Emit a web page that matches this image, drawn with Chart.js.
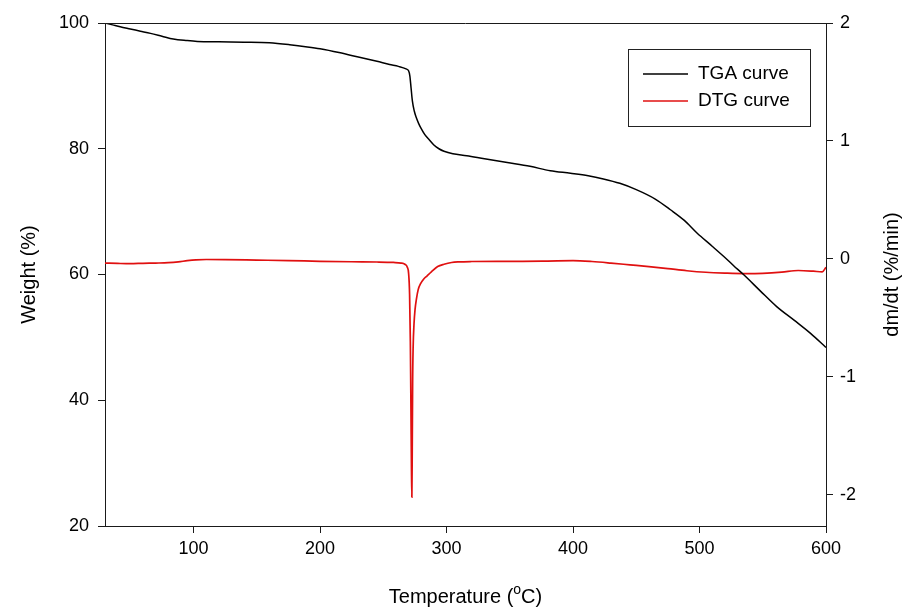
<!DOCTYPE html>
<html>
<head>
<meta charset="utf-8">
<script src="https://cdn.jsdelivr.net/npm/chart.js@4.4.1/dist/chart.umd.min.js"></script>
<style>
	html, body { margin: 0; padding: 0; background: #fff; }
</style>
</head>
<body>
<canvas id="myChart" width="905" height="612"></canvas>
<script>

// TGA curve: temperature (C) vs weight (%)
var tgaTemp = [30,36,42,50,58,66,75,84,95,103,120,140,160,176,190,200,215,232,245,255,262,268,270,271,272,273,274.5,276,278,280,283,286,290,294,298,305,316,330,348,366,382,398,412,424,437,450,465,477,488,498,510,519,527,535,548,561,575,588,600];
var tgaWeight = [100,99.7,99.4,99.05,98.7,98.35,97.9,97.45,97.2,97.07,97.0,96.95,96.85,96.55,96.2,95.9,95.3,94.5,93.9,93.4,93.1,92.7,92.4,91.6,89.6,87.6,86.0,85.0,84.0,83.2,82.2,81.5,80.6,80.0,79.6,79.2,78.9,78.4,77.8,77.2,76.5,76.1,75.7,75.2,74.5,73.5,72.0,70.3,68.6,66.6,64.5,62.9,61.4,59.95,57.4,54.9,52.7,50.6,48.4];

// DTG curve: temperature (C) vs dm/dt (%/min)
var dtgTemp = [30,40,50,60,70,80,88,95,102,110,125,150,175,200,225,245,258,264,267,269,270,270.8,271.4,271.9,272.3,272.6,272.9,273.2,273.6,274.3,275.1,276.2,277.6,279.5,282,284.5,288,293,298,304,310,320,340,360,380,400,415,430,445,460,475,490,505,520,535,550,565,578,590,597,600];
var dtgRate = [-0.035,-0.038,-0.04,-0.037,-0.035,-0.032,-0.025,-0.015,-0.008,-0.005,-0.006,-0.01,-0.014,-0.02,-0.024,-0.026,-0.03,-0.035,-0.045,-0.07,-0.12,-0.3,-0.7,-1.3,-1.8,-2.02,-1.6,-1.05,-0.75,-0.55,-0.43,-0.34,-0.26,-0.21,-0.17,-0.145,-0.11,-0.065,-0.045,-0.03,-0.025,-0.022,-0.02,-0.02,-0.018,-0.015,-0.022,-0.035,-0.05,-0.065,-0.082,-0.1,-0.113,-0.12,-0.124,-0.122,-0.112,-0.098,-0.104,-0.11,-0.07];

var xTicks = [100,200,300,400,500,600];
var weightTicks = [20,40,60,80,100];
var rateTicks = [-2,-1,0,1,2];
var seriesNames = ['TGA curve', 'DTG curve'];
var seriesColors = ['#000000', '#e01010'];

var FONT = 'Liberation Sans, Arial, sans-serif';
var AXIS = '#1a1a1a';

function toPoints(xs, ys){
	var pts = [];
	for(var i=0; i<xs.length; i++)
		pts.push({x: xs[i], y: ys[i]});
	return pts;
}

function fixedTicks(list){
	return function(scale){
		scale.ticks = list.map(function(v){ return {value: v}; });
	};
}

function axisGrid(){
	return {drawOnChartArea: false, tickLength: 7, color: AXIS, tickColor: AXIS, tickWidth: 1};
}

//frame, titles and legend drawn on top
var decorPlugin = {
	id: 'decor',
	afterDraw: function(chart){
		var ctx = chart.ctx;
		var a = chart.chartArea;
		ctx.save();

		//top frame line
		ctx.strokeStyle = AXIS;
		ctx.lineWidth = 1;
		ctx.beginPath();
		ctx.moveTo(a.left, a.top + 0.5);
		ctx.lineTo(a.right, a.top + 0.5);
		ctx.stroke();

		ctx.fillStyle = '#000';
		ctx.textBaseline = 'middle';
		ctx.textAlign = 'center';
		ctx.font = '20px ' + FONT;
		var midY = (a.top + a.bottom) / 2;

		//left title
		ctx.save();
		ctx.translate(29, midY);
		ctx.rotate(-Math.PI/2);
		ctx.fillText('Weight (%)', 0, 0);
		ctx.restore();

		//right title
		ctx.save();
		ctx.translate(892, midY);
		ctx.rotate(-Math.PI/2);
		ctx.fillText('dm/dt (%/min)', 0, 0);
		ctx.restore();

		//bottom title with superscript o
		var p1 = 'Temperature (', sup = 'o', p2 = 'C)';
		var w1 = ctx.measureText(p1).width;
		var w3 = ctx.measureText(p2).width;
		ctx.font = '14px ' + FONT;
		var w2 = ctx.measureText(sup).width;
		var total = w1 + w2 + w3;
		var x0 = (a.left + a.right) / 2 - total / 2;
		var ty = 597;
		ctx.textAlign = 'left';
		ctx.font = '20px ' + FONT;
		ctx.fillText(p1, x0, ty);
		ctx.font = '14px ' + FONT;
		ctx.fillText(sup, x0 + w1, ty - 7);
		ctx.font = '20px ' + FONT;
		ctx.fillText(p2, x0 + w1 + w2, ty);

		//legend box
		ctx.fillStyle = '#fff';
		ctx.fillRect(628, 49, 183, 78);
		ctx.strokeStyle = '#222';
		ctx.strokeRect(628.5, 49.5, 182, 77);
		ctx.font = '19px ' + FONT;
		var rows = [74, 101];
		for(var i=0; i<seriesNames.length; i++){
			ctx.strokeStyle = seriesColors[i];
			ctx.lineWidth = 1.5;
			ctx.beginPath();
			ctx.moveTo(643, rows[i]);
			ctx.lineTo(688, rows[i]);
			ctx.stroke();
			ctx.fillStyle = '#000';
			ctx.fillText(seriesNames[i], 698, rows[i]);
		}
		ctx.restore();
	}
};

var ctx = document.getElementById('myChart').getContext('2d');
var chart = new Chart(ctx, {
	type: 'line',
	data: {
		datasets: [{
			label: seriesNames[0],
			data: toPoints(tgaTemp, tgaWeight),
			borderColor: seriesColors[0],
			borderWidth: 1.5,
			pointRadius: 0,
			cubicInterpolationMode: 'monotone',
			yAxisID: 'y'
		}, {
			label: seriesNames[1],
			data: toPoints(dtgTemp, dtgRate),
			borderColor: seriesColors[1],
			borderWidth: 1.7,
			pointRadius: 0,
			cubicInterpolationMode: 'monotone',
			yAxisID: 'y2'
		}]
	},
	options: {
		responsive: false,
		animation: false,
		devicePixelRatio: 1,
		layout: {padding: {top: 23, left: 0, right: 0, bottom: 0}},
		plugins: {legend: {display: false}, tooltip: {enabled: false}},
		scales: {
			x: {
				type: 'linear', position: 'bottom', min: 30, max: 600,
				afterBuildTicks: fixedTicks(xTicks),
				afterFit: function(s){ s.height = 86; },
				grid: axisGrid(),
				border: {color: AXIS, width: 1},
				ticks: {color: '#000', font: {family: FONT, size: 18}, padding: 5, maxRotation: 0, autoSkip: false}
			},
			y: {
				type: 'linear', position: 'left', min: 20, max: 100,
				afterBuildTicks: fixedTicks(weightTicks),
				afterFit: function(s){ s.width = 105; },
				grid: axisGrid(),
				border: {color: AXIS, width: 1},
				ticks: {color: '#000', font: {family: FONT, size: 18}, padding: 9}
			},
			y2: {
				type: 'linear', position: 'right', min: -2.264, max: 2,
				afterBuildTicks: fixedTicks(rateTicks),
				afterFit: function(s){ s.width = 79; },
				grid: axisGrid(),
				border: {color: AXIS, width: 1},
				ticks: {color: '#000', font: {family: FONT, size: 18}, padding: 7}
			}
		}
	},
	plugins: [decorPlugin]
});
</script>
</body>
</html>
